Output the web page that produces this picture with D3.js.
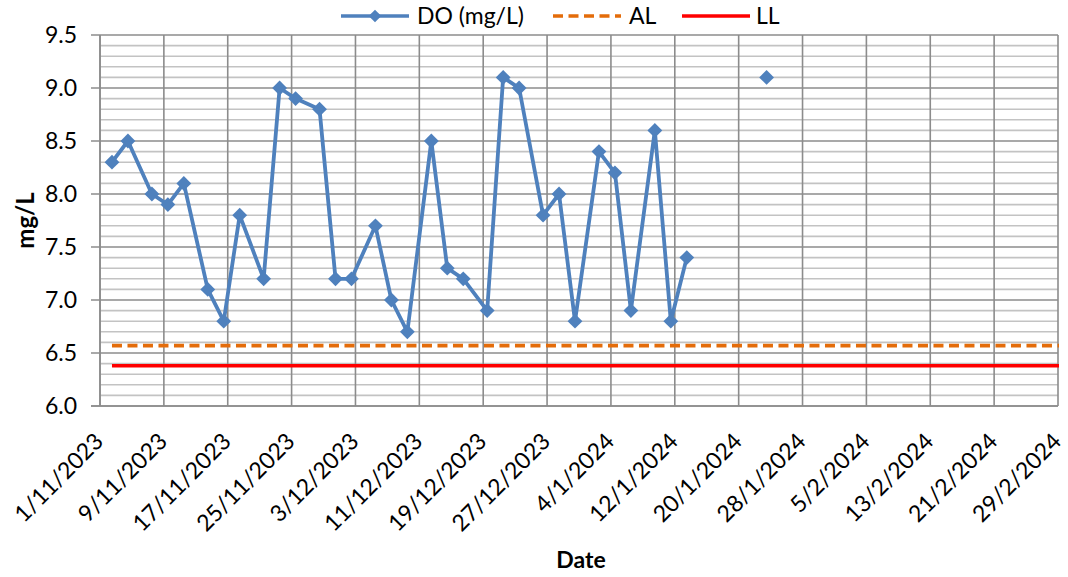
<!DOCTYPE html>
<html>
<head>
<meta charset="utf-8">
<script src="https://cdn.jsdelivr.net/npm/d3@7"></script>
<style>
  body { margin: 0; background: #fff; }
  svg { display: block; font-family: Lato, "Open Sans", sans-serif; }
</style>
</head>
<body>
<svg id="chart" width="1068" height="577"></svg>
<script>
// DO readings (day/month/year)
const doDates = ["2/11/2023","4/11/2023","7/11/2023","9/11/2023","11/11/2023","14/11/2023","16/11/2023","18/11/2023",
  "21/11/2023","23/11/2023","25/11/2023","28/11/2023","30/11/2023","2/12/2023","5/12/2023","7/12/2023","9/12/2023",
  "12/12/2023","14/12/2023","16/12/2023","19/12/2023","21/12/2023","23/12/2023","26/12/2023","28/12/2023","30/12/2023",
  "2/1/2024","4/1/2024","6/1/2024","9/1/2024","11/1/2024","13/1/2024","23/1/2024"];
const doValues = [8.3, 8.5, 8.0, 7.9, 8.1, 7.1, 6.8, 7.8, 7.2, 9.0, 8.9, 8.8, 7.2, 7.2, 7.7, 7.0, 6.7,
  8.5, 7.3, 7.2, 6.9, 9.1, 9.0, 7.8, 8.0, 6.8, 8.4, 8.2, 6.9, 8.6, 6.8, 7.4, 9.1];

// limit lines
const alValue = 6.57, llValue = 6.38;
const limitRange = ["2/11/2023", "29/2/2024"];

// axes
const axisStart = "1/11/2023", axisEnd = "29/2/2024", tickStepDays = 8;
const yDomain = [6.0, 9.5], yMajor = 0.5, yMinor = 0.1;
const maxGapDays = 7; // readings further apart than this are not joined

const legendItems = [
  {label: "DO (mg/L)", kind: "do"},
  {label: "AL", kind: "al"},
  {label: "LL", kind: "ll"}
];

const colBlue = "#4f81bd", colOrange = "#e46c0a", colRed = "#ff0000";

let svg = d3.select("#chart"),
    margin = {top: 35, right: 10, bottom: 171, left: 100},
    width = +svg.attr("width") - margin.left - margin.right,
    height = +svg.attr("height") - margin.top - margin.bottom;

const parse = d3.utcParse("%d/%m/%Y");
const fmt = d3.utcFormat("%-d/%-m/%Y");
const mid = d => d3.utcHour.offset(d, 12); // Excel draws points in the middle of the day

const x = d3.scaleUtc().domain([parse(axisStart), parse(axisEnd)]).range([0, width]);
const y = d3.scaleLinear().domain(yDomain).range([height, 0]);

const g = svg.append("g").attr("transform", "translate(" + margin.left + "," + margin.top + ")");

// horizontal grid
const minorTicks = d3.range(yDomain[0], yDomain[1] + 1e-9, yMinor).map(v => +v.toFixed(2));
g.append("g").selectAll("line")
  .data(minorTicks.filter(v => Math.abs(v / yMajor - Math.round(v / yMajor)) > 1e-6))
  .join("line")
  .attr("x1", 0).attr("x2", width)
  .attr("y1", d => y(d)).attr("y2", d => y(d))
  .attr("stroke", "#c3c3c3").attr("stroke-width", 1.6);

const majorTicks = d3.range(yDomain[0], yDomain[1] + 1e-9, yMajor);
g.append("g").selectAll("line")
  .data(majorTicks)
  .join("line")
  .attr("x1", -9).attr("x2", width)
  .attr("y1", d => y(d)).attr("y2", d => y(d))
  .attr("stroke", "#8c8c8c").attr("stroke-width", 1.6);

// vertical grid every 8 days
const xTicks = d3.range(0, 16).map(i => d3.utcDay.offset(parse(axisStart), i * tickStepDays));
g.append("g").selectAll("line")
  .data(xTicks)
  .join("line")
  .attr("x1", d => x(d)).attr("x2", d => x(d))
  .attr("y1", 0).attr("y2", height)
  .attr("stroke", "#8c8c8c").attr("stroke-width", 1.6);

// y axis labels
g.append("g").selectAll("text")
  .data(majorTicks)
  .join("text")
  .attr("x", -23).attr("y", d => y(d)).attr("dy", "0.35em")
  .attr("text-anchor", "end")
  .style("font-size", "23px").attr("fill", "#000")
  .text(d => d.toFixed(1));

// x axis labels
g.append("g").selectAll("text")
  .data(xTicks)
  .join("text")
  .attr("transform", d => "translate(" + (x(d) - 1) + "," + (height + 31) + ") rotate(-45)")
  .attr("text-anchor", "end")
  .attr("dy", "0.35em")
  .style("font-size", "23px").attr("fill", "#000")
  .text(d => fmt(d));

// axis titles
svg.append("text")
  .attr("transform", "translate(34," + (margin.top + height / 2) + ") rotate(-90)")
  .attr("text-anchor", "middle")
  .style("font-size", "24px").style("font-weight", "bold")
  .text("mg/L");

svg.append("text")
  .attr("x", margin.left + width / 2 + 2).attr("y", 568)
  .attr("text-anchor", "middle")
  .style("font-size", "23px").style("font-weight", "bold")
  .text("Date");

// limit lines
const limitX = limitRange.map(s => x(mid(parse(s))));
g.append("line")
  .attr("x1", limitX[0]).attr("x2", width + 1)
  .attr("y1", y(llValue)).attr("y2", y(llValue))
  .attr("stroke", colRed).attr("stroke-width", 3.6);
g.append("line")
  .attr("x1", limitX[0]).attr("x2", width + 1)
  .attr("y1", y(alValue)).attr("y2", y(alValue))
  .attr("stroke", colOrange).attr("stroke-width", 3.6)
  .attr("stroke-dasharray", "10,5.5");

// DO series
const doData = doDates.map((s, i) => ({date: parse(s), value: doValues[i]}));
const segments = [];
doData.forEach((d, i) => {
  if (i === 0 || d3.utcDay.count(doData[i - 1].date, d.date) > maxGapDays) segments.push([]);
  segments[segments.length - 1].push(d);
});

const line = d3.line().x(d => x(mid(d.date))).y(d => y(d.value));
g.append("g").selectAll("path")
  .data(segments)
  .join("path")
  .attr("d", line)
  .attr("fill", "none")
  .attr("stroke", colBlue).attr("stroke-width", 3.8)
  .attr("stroke-linejoin", "round");

const diamond = d3.symbol().type(d3.symbolSquare).size(110);
g.append("g").selectAll("path")
  .data(doData)
  .join("path")
  .attr("transform", d => "translate(" + x(mid(d.date)) + "," + y(d.value) + ") rotate(45)")
  .attr("d", diamond)
  .attr("fill", colBlue);

// bottom and left axis lines
g.append("line").attr("x1", 0).attr("x2", 0).attr("y1", 0).attr("y2", height)
  .attr("stroke", "#8c8c8c").attr("stroke-width", 1.6);
g.append("line").attr("x1", -9).attr("x2", width).attr("y1", height).attr("y2", height)
  .attr("stroke", "#8c8c8c").attr("stroke-width", 1.6);

// legend
const legendPos = [{x: 341, tx: 417}, {x: 553, tx: 629}, {x: 682, tx: 756}];
const legend = svg.append("g").attr("transform", "translate(0,16)");
legendItems.forEach((it, i) => {
  const p = legendPos[i];
  const l = legend.append("line")
    .attr("x1", p.x).attr("x2", p.x + 68).attr("y1", 0).attr("y2", 0)
    .attr("stroke-width", 3.6);
  if (it.kind === "do") {
    l.attr("stroke", colBlue);
    legend.append("path")
      .attr("transform", "translate(" + (p.x + 34) + ",0) rotate(45)")
      .attr("d", d3.symbol().type(d3.symbolSquare).size(80))
      .attr("fill", colBlue);
  } else if (it.kind === "al") {
    l.attr("stroke", colOrange).attr("stroke-dasharray", "10,5.5");
  } else {
    l.attr("stroke", colRed);
  }
  legend.append("text")
    .attr("x", p.tx).attr("y", 0).attr("dy", "0.35em")
    .style("font-size", "23px").attr("fill", "#000")
    .text(it.label);
});
</script>
</body>
</html>
